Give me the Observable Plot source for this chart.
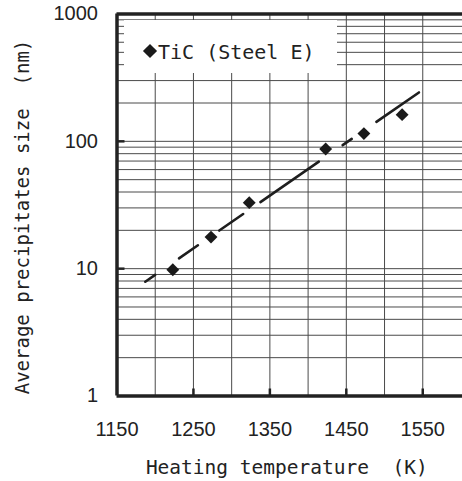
<!DOCTYPE html>
<html><head><meta charset="utf-8">
<script src="https://cdn.jsdelivr.net/npm/d3@7"></script>
<script src="https://cdn.jsdelivr.net/npm/@observablehq/plot@0.6"></script>
<style>
body{margin:0;background:#fff;}
#wrap{position:relative;width:462px;height:481px;overflow:hidden;background:#fff;}
#legend{position:absolute;left:124px;top:20px;width:213px;height:53px;background:#fff;}
#legend .mk{position:absolute;left:21px;top:26px;width:10px;height:10px;background:#1a1a1a;transform:rotate(45deg);}
#legend .tx{position:absolute;left:34px;top:19px;font-family:"DejaVu Sans Mono",monospace;font-size:20px;line-height:26px;color:#222;white-space:pre;}
</style></head>
<body>
<div id="wrap"></div>
<script>
// data
const temps = [1223, 1273, 1323, 1423, 1473, 1523];          // K
const sizes = [9.8, 17.7, 33, 87, 115, 162];                 // nm
const fitTemps = [1187, 1545];
const fitSizes = [7.9, 242];
const xTickLabels = [1150, 1250, 1350, 1450, 1550];
const xMajorTicks = [1250, 1350, 1450, 1550];
const yTickLabels = [1, 10, 100, 1000];
const yMajorTicks = [10, 100];
const gridTemps = [1200, 1250, 1300, 1350, 1400, 1450, 1500, 1550];
const gridSizes = [2,3,4,5,6,7,8,9,10,20,30,40,50,60,70,80,90,100,200,300,400,500,600,700,800,900];
const xDomain = [1150, 1602];
const yDomain = [1, 1000];
const xTitle = "Heating temperature\u00a0\u00a0(K)";
const yTitle = "Average precipitates size\u00a0\u00a0(nm)";
const legendLabel = "TiC (Steel E)";

const fit = fitTemps.map((t, i) => ({t, s: fitSizes[i]}));
const pts = temps.map((t, i) => ({t, s: sizes[i]}));

const chart = Plot.plot({
  width: 462, height: 481,
  marginLeft: 116.5, marginTop: 13.5, marginBottom: 85.5, marginRight: 0,
  x: {type: "linear", domain: xDomain},
  y: {type: "log", domain: yDomain},
  style: {background: "#fff", color: "#222", fontFamily: "'Liberation Sans', Arial, sans-serif", fontSize: "20px"},
  marks: [
    Plot.ruleX(gridTemps, {stroke: "#4a4a4a", strokeWidth: 1}),
    Plot.ruleY(gridSizes, {stroke: "#4a4a4a", strokeWidth: 1}),
    Plot.axisX(xTickLabels, {tickSize: 0, tickPadding: 26, label: null, fontSize: 20, fill: "#222", tickFormat: d => String(d)}),
    Plot.axisX(xMajorTicks, {tickSize: -7, strokeWidth: 2.5, stroke: "#222", tickFormat: () => "", label: null}),
    Plot.axisY(yTickLabels, {tickSize: 0, tickPadding: 19, label: null, fontSize: 20, fill: "#222", tickFormat: d => String(d)}),
    Plot.axisY(yMajorTicks, {tickSize: -8, strokeWidth: 2.5, stroke: "#222", tickFormat: () => "", label: null}),
    Plot.ruleX([xDomain[0]], {stroke: "#222", strokeWidth: 3.5}),
    Plot.ruleY([yDomain[0]], {stroke: "#222", strokeWidth: 3.5}),
    Plot.ruleY([yDomain[1]], {stroke: "#222", strokeWidth: 3.5}),
    Plot.line(fit, {x: "t", y: "s", stroke: "#1e1e1e", strokeWidth: 2.6, strokeDasharray: "12,29,23,26,29,21,71,29,11,30,52,100"}),
    Plot.dot(pts, {x: "t", y: "s", symbol: "diamond2", r: 5.8, fill: "#1a1a1a", stroke: "none"}),
    Plot.text([xTitle], {frameAnchor: "bottom", dx: -3, dy: 78, fontFamily: "'DejaVu Sans Mono', monospace", fontSize: 19.5, fill: "#222"}),
    Plot.text([yTitle], {frameAnchor: "left", textAnchor: "middle", rotate: -90, dx: -94, dy: 12, fontFamily: "'DejaVu Sans Mono', monospace", fontSize: 19, fill: "#222"})
  ]
});
const wrap = document.getElementById("wrap");
wrap.appendChild(chart);
const lg = document.createElement("div");
lg.id = "legend";
lg.innerHTML = '<div class="mk"></div><div class="tx"></div>';
lg.querySelector(".tx").textContent = legendLabel;
wrap.appendChild(lg);
</script>
</body></html>
